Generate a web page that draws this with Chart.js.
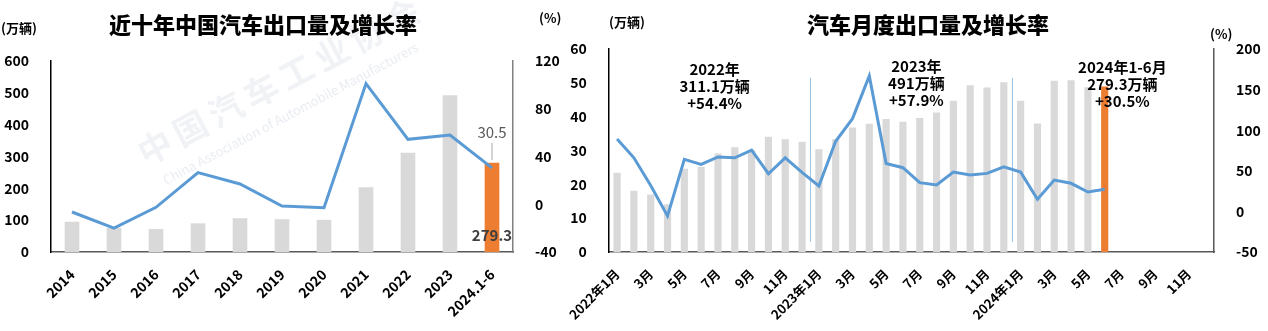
<!DOCTYPE html>
<html>
<head>
<meta charset="utf-8">
<script src="https://cdn.jsdelivr.net/npm/chart.js@4.4.1/dist/chart.umd.min.js"></script>
<style>
  html, body { margin: 0; padding: 0; background: #fff; }
  #wrap { position: relative; width: 1268px; height: 331px; overflow: hidden; }
  .box { position: absolute; top: 0; height: 331px; }
  #leftBox { left: 0; width: 565px; }
  #rightBox { left: 565px; width: 703px; }
</style>
</head>
<body>
<div id="wrap">
  <div class="box" id="leftBox"><canvas id="yearChart" width="565" height="331"></canvas></div>
  <div class="box" id="rightBox"><canvas id="monthChart" width="703" height="331"></canvas></div>
</div>
<script>
// yearly exports (万辆) and growth (%)
const years = ["2014", "2015", "2016", "2017", "2018", "2019", "2020", "2021", "2022", "2023", "2024.1-6"];
const yearVolume = [94, 75, 71, 89, 105, 102, 100, 202, 311.1, 491, 279.3];
const yearGrowth = [-6.5, -20, -2.6, 26.5, 17, -1.5, -2.9, 101.1, 54.4, 57.9, 30.5];

// monthly exports Jan 2022 .. Dec 2024 (data up to Jun 2024)
const monthLabels = [
  "2022年1月", "2月", "3月", "4月", "5月", "6月", "7月", "8月", "9月", "10月", "11月", "12月",
  "2023年1月", "2月", "3月", "4月", "5月", "6月", "7月", "8月", "9月", "10月", "11月", "12月",
  "2024年1月", "2月", "3月", "4月", "5月", "6月", "7月", "8月", "9月", "10月", "11月", "12月"
];
const monthVolume = [
  23.3, 18.0, 16.9, 14.0, 24.5, 25.1, 29.0, 30.9, 30.0, 34.0, 33.2, 32.5,
  30.3, 33.2, 36.7, 37.8, 39.2, 38.4, 39.5, 41.1, 44.6, 49.2, 48.5, 50.1,
  44.6, 37.9, 50.5, 50.7, 48.6, 48.8
];
const monthGrowth = [
  89.3, 66, 32, -5.5, 64, 57.8, 67, 66, 75.4, 46.4, 66, 48,
  31.3, 86.4, 114.2, 166.9, 59.1, 53.8, 35.4, 32.5, 48.4, 44.8, 46.8, 55,
  48.4, 15, 38.6, 34.6, 23.9, 27.2
];

// yearly summary notes: text lines, category index the block is centred on
const yearNotes = [
  { lines: ["2022年", "311.1万辆", "+54.4%"], at: 5.8, top: 20 },
  { lines: ["2023年", "491万辆", "+57.9%"], at: 17.8, top: 17 },
  { lines: ["2024年1-6月", "279.3万辆", "+30.5%"], at: 30.05, top: 18 }
];
// year boundaries drawn as thin separators (between these category indexes)
const yearBreaks = [11.5, 23.5];

const FONT = "'Noto Sans CJK SC', 'Noto Sans', sans-serif";
const GRAY = "#d9d9d9";
const ORANGE = "#ed7d31";
const BLUE = "#5b9bd5";

Chart.defaults.font.family = FONT;
Chart.defaults.color = "#000";
Chart.defaults.animation = false;

function barColors(n, lastIndex) {
  return Array.from({ length: n }, (_, i) => (i === lastIndex ? ORANGE : GRAY));
}

function text(ctx, str, x, y, size, align, color, weight) {
  ctx.save();
  ctx.font = (weight || "bold") + " " + size + "px " + FONT;
  ctx.fillStyle = color || "#000";
  ctx.textAlign = align || "left";
  ctx.textBaseline = "middle";
  ctx.fillText(str, x, y);
  ctx.restore();
}

const watermark = {
  id: "watermark",
  beforeDatasetsDraw(chart) {
    const ctx = chart.ctx;
    ctx.save();
    ctx.translate(155, 147);
    ctx.rotate(-28 * Math.PI / 180);
    ctx.fillStyle = "rgba(200, 208, 222, 0.28)";
    ctx.font = "bold 34px " + FONT;
    ctx.textBaseline = "middle";
    const chars = "中国汽车工业协会";
    for (let i = 0; i < chars.length; i++) {
      ctx.fillText(chars[i], -17 + i * 40, 0);
    }
    ctx.font = "13px " + FONT;
    ctx.fillStyle = "rgba(200, 208, 222, 0.4)";
    ctx.fillText("China Association of Automobile Manufacturers", -8, 34);
    ctx.restore();
  }
};

const yearDecor = {
  id: "yearDecor",
  afterDraw(chart) {
    const ctx = chart.ctx;
    text(ctx, "近十年中国汽车出口量及增长率", 263, 25, 22, "center", "#000", "900");
    text(ctx, "(万辆)", 1, 28, 13, "left");
    text(ctx, "(%)", 539, 18, 13, "left");

    const last = years.length - 1;
    const x = chart.scales.x.getPixelForValue(last);
    const yLine = chart.scales.y1.getPixelForValue(yearGrowth[last]);
    ctx.save();
    ctx.strokeStyle = "#a6a6a6";
    ctx.lineWidth = 1;
    ctx.beginPath();
    ctx.moveTo(x, yLine - 8);
    ctx.lineTo(x, yLine - 25);
    ctx.stroke();
    ctx.restore();
    text(ctx, String(yearGrowth[last]), x, yLine - 36, 15, "center", "#595959", "normal");
    text(ctx, String(yearVolume[last]), x, chart.scales.y.getPixelForValue(53), 15, "center", "#404040");
  }
};

const monthDecor = {
  id: "monthDecor",
  beforeDatasetsDraw(chart) {
    const ctx = chart.ctx;
    const xs = chart.scales.x, ys = chart.scales.y;
    ctx.save();
    ctx.strokeStyle = "#9dc3e6";
    ctx.lineWidth = 1;
    yearBreaks.forEach(b => {
      const x = Math.round(xs.getPixelForValue(b)) + 0.5;
      ctx.beginPath();
      ctx.moveTo(x, ys.getPixelForValue(3));
      ctx.lineTo(x, ys.getPixelForValue(51.5));
      ctx.stroke();
    });
    ctx.restore();
  },
  afterDraw(chart) {
    const ctx = chart.ctx;
    const xs = chart.scales.x;
    text(ctx, "汽车月度出口量及增长率", 363, 25, 22, "center", "#000", "900");
    text(ctx, "(万辆)", 44, 22, 13, "left");
    text(ctx, "(%)", 645, 34, 13, "left");
    yearNotes.forEach(n => {
      const x = xs.getPixelForValue(n.at);
      n.lines.forEach((l, i) => {
        text(ctx, l, x, chart.chartArea.top + n.top + i * 17, 15, "center", "#000");
      });
    });
  }
};

function yAxis(opts) {
  return Object.assign({
    grid: { display: false },
    border: { display: true, color: "#000", width: 1.5 },
    ticks: { font: { size: 14, weight: "bold" }, color: "#000", padding: 14 }
  }, opts);
}

const xTickFont = { size: 14, weight: "bold" };

new Chart(document.getElementById("yearChart"), {
  type: "bar",
  data: {
    labels: years,
    datasets: [
      {
        type: "line",
        data: yearGrowth,
        yAxisID: "y1",
        borderColor: BLUE,
        borderWidth: 3,
        pointRadius: 0,
        tension: 0,
        order: 1
      },
      {
        type: "bar",
        data: yearVolume,
        yAxisID: "y",
        backgroundColor: barColors(years.length, years.length - 1),
        barThickness: 14,
        order: 2
      }
    ]
  },
  options: {
    responsive: false,
    layout: { padding: { top: 61, left: 0, right: 0, bottom: 0 } },
    plugins: { legend: { display: false }, tooltip: { enabled: false } },
    scales: {
      x: {
        grid: { display: false },
        border: { display: true, color: "#595959", width: 1.5 },
        ticks: { font: xTickFont, color: "#000", minRotation: 45, maxRotation: 45, padding: 6, autoSkip: false },
        afterFit(s) { s.height = 79; }
      },
      y: yAxis({
        position: "left", min: 0, max: 600,
        ticks: { stepSize: 100, font: { size: 14, weight: "bold" }, color: "#000", padding: 14 },
        afterFit(s) { s.width = 51; }
      }),
      y1: yAxis({
        position: "right", min: -40, max: 120,
        border: { display: true, color: "#808080", width: 1.5 },
        ticks: { stepSize: 40, font: { size: 14, weight: "bold" }, color: "#000", padding: 14 },
        afterFit(s) { s.width = 52; }
      })
    }
  },
  plugins: [watermark, yearDecor]
});

new Chart(document.getElementById("monthChart"), {
  type: "bar",
  data: {
    labels: monthLabels,
    datasets: [
      {
        type: "line",
        data: monthGrowth,
        yAxisID: "y1",
        borderColor: BLUE,
        borderWidth: 3,
        pointRadius: 0,
        tension: 0,
        order: 1
      },
      {
        type: "bar",
        data: monthVolume,
        yAxisID: "y",
        backgroundColor: barColors(monthVolume.length, monthVolume.length - 1),
        barThickness: 6.5,
        order: 2
      }
    ]
  },
  options: {
    responsive: false,
    layout: { padding: { top: 49, left: 0, right: 0, bottom: 0 } },
    plugins: { legend: { display: false }, tooltip: { enabled: false } },
    scales: {
      x: {
        grid: { display: false },
        border: { display: true, color: "#595959", width: 1.5 },
        ticks: {
          font: { size: 13, weight: "bold" }, color: "#000",
          minRotation: 45, maxRotation: 45, padding: 6, autoSkip: false,
          callback(v, i) { return i % 2 === 0 ? monthLabels[i] : ""; }
        },
        afterFit(s) { s.height = 79; }
      },
      y: yAxis({
        position: "left", min: 0, max: 60,
        ticks: { stepSize: 10, font: { size: 14, weight: "bold" }, color: "#000", padding: 14 },
        afterFit(s) { s.width = 42; }
      }),
      y1: yAxis({
        position: "right", min: -50, max: 200,
        border: { display: true, color: "#595959", width: 1.5 },
        ticks: { stepSize: 50, font: { size: 14, weight: "bold" }, color: "#000", padding: 14 },
        afterFit(s) { s.width = 54; }
      })
    }
  },
  plugins: [monthDecor]
});
</script>
</body>
</html>
